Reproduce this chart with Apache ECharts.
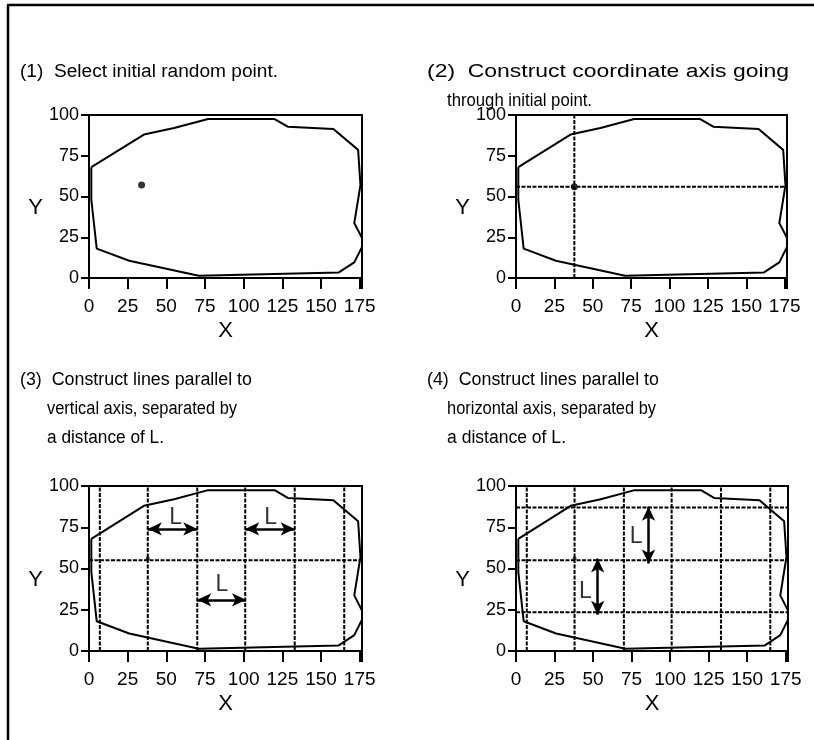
<!DOCTYPE html>
<html>
<head>
<meta charset="utf-8">
<script src="https://cdn.jsdelivr.net/npm/echarts@6/dist/echarts.min.js"></script>
<style>
html,body{margin:0;padding:0;background:#fff;}
#chart{width:814px;height:740px;}
</style>
</head>
<body>
<div id="chart"></div>
<script>
// ---- data ----
const boundary = [[1.5,68],[35.5,88],[55,92],[77,97.5],[120,97.5],[128.5,92.8],[158,91.4],[174,78.6],[175.5,57],[171.5,33.7],[178,21.8],[171.5,9.6],[161.5,3.4],[71,1.4],[26,10.6],[5,18],[1.5,48],[1.5,68]];
const pointPanel1 = [[34,57]];
const pointPanel2 = [[38,56]];
const pointPanels34 = [[38,56]];
const axisLineXPanel2 = [38];
const axisLineYPanel2 = [56];
const verticalLinesX = [7,38,70,101,133,165];
const horizontalLinePanel3 = [55];
const horizontalLinesY = [23.5,55,87];
const arrowsPanel3 = [[[38,74],[70,74]],[[101,74],[133,74]],[[70,31],[101.5,31]]];
const labelsPanel3 = [[56,81],[117.5,81],[86,40]];
const arrowsPanel4 = [[[86,87.5],[86,53]],[[53,56],[53,22]]];
const labelsPanel4 = [[78,69],[45,36]];
const xTicks = [0,25,50,75,100,125,150,175];
const yTicks = [0,25,50,75,100];
const titles = [
  ['(1)  Select initial random point.'],
  ['(2)  Construct coordinate axis going','through initial point.'],
  ['(3)  Construct lines parallel to','vertical axis, separated by','a distance of L.'],
  ['(4)  Construct lines parallel to','horizontal axis, separated by','a distance of L.']
];

// ---- layout ----
const FONT = 'Liberation Sans, Arial, sans-serif';
const TITLE_FONT = '18px "Liberation Sans", Arial, sans-serif';
const grids = [
  {left:89, top:115, width:273, height:163},
  {left:516, top:115, width:271, height:163},
  {left:89, top:486, width:273, height:165},
  {left:516, top:486, width:272, height:165}
];
const titlePos = [
  {x:20, y:72, indent:47},
  {x:427, y:72, indent:447},
  {x:20, y:380, indent:47},
  {x:427, y:380, indent:447}
];
const titleLineWidths = [[258],[362,145],[232,190,117],[232,209,119]];
const dashStyle = {color:'#000', width:2, type:[4,1.5]};

const measureCtx = document.createElement('canvas').getContext('2d');
measureCtx.font = TITLE_FONT;

const option = {
  animation:false,
  backgroundColor:'#fff',
  grid: grids.map(g => Object.assign({show:true, borderColor:'#000', borderWidth:2, containLabel:false}, g)),
  xAxis: grids.map((g,i) => ({
    gridIndex:i, type:'value', min:0, max:176.5, interval:25,
    name:'X', nameLocation:'middle', nameGap:42,
    nameTextStyle:{fontFamily:FONT, fontSize:22, color:'#000'},
    axisLine:{show:true, lineStyle:{color:'#000', width:2}},
    axisTick:{show:true, length:11, lineStyle:{color:'#000', width:2}},
    axisLabel:{fontFamily:FONT, fontSize:19, color:'#000', margin:19,
      formatter: v => xTicks.includes(v) ? String(v) : ''},
    splitLine:{show:false}
  })),
  yAxis: grids.map((g,i) => ({
    gridIndex:i, type:'value', min:0, max:100, interval:25,
    name:'Y', nameLocation:'middle', nameGap:46, nameRotate:0,
    nameTextStyle:{fontFamily:FONT, fontSize:22, color:'#000', verticalAlign:'top'},
    axisLine:{show:true, lineStyle:{color:'#000', width:2}},
    axisTick:{show:true, length:8, lineStyle:{color:'#000', width:2}},
    axisLabel:{fontFamily:FONT, fontSize:18, color:'#000', margin:10,
      formatter: v => yTicks.includes(v) ? String(v) : ''},
    splitLine:{show:false}
  })),
  graphic: [
    {type:'line', shape:{x1:8, y1:5, x2:8, y2:740}, style:{stroke:'#000', lineWidth:2.5}},
    {type:'line', shape:{x1:7, y1:5, x2:814, y2:5}, style:{stroke:'#000', lineWidth:2.5}}
  ],
  series: []
};

// titles
titles.forEach((lines,i) => {
  lines.forEach((t,j) => {
    const w = measureCtx.measureText(t).width || 1;
    const s = titleLineWidths[i][j] / w;
    option.graphic.push({type:'text',
      x: j===0 ? titlePos[i].x : titlePos[i].indent,
      y: titlePos[i].y + j*29,
      scaleX: s, scaleY: 1,
      style:{text:t, font:TITLE_FONT, fill:'#000', verticalAlign:'middle', align:'left'}});
  });
});

// boundaries
for (let i=0;i<4;i++) {
  option.series.push({type:'line', xAxisIndex:i, yAxisIndex:i, data:boundary,
    showSymbol:false, symbol:'none', clip:false, z:3,
    lineStyle:{color:'#000', width:2}});
}

function vline(i, x) {
  return {type:'line', xAxisIndex:i, yAxisIndex:i, data:[[x,0],[x,100]],
    showSymbol:false, symbol:'none', clip:false, z:2, lineStyle:dashStyle};
}
function hline(i, y) {
  return {type:'line', xAxisIndex:i, yAxisIndex:i, data:[[0,y],[176.5,y]],
    showSymbol:false, symbol:'none', clip:false, z:2, lineStyle:dashStyle};
}

// panel 2
axisLineXPanel2.forEach(x => option.series.push(vline(1,x)));
axisLineYPanel2.forEach(y => option.series.push(hline(1,y)));
// panel 3
verticalLinesX.forEach(x => option.series.push(vline(2,x)));
horizontalLinePanel3.forEach(y => option.series.push(hline(2,y)));
// panel 4
verticalLinesX.forEach(x => option.series.push(vline(3,x)));
horizontalLinesY.forEach(y => option.series.push(hline(3,y)));

// points
option.series.push({type:'scatter', xAxisIndex:0, yAxisIndex:0, data:pointPanel1, symbolSize:7, itemStyle:{color:'#000'}, z:5});
option.series.push({type:'scatter', xAxisIndex:1, yAxisIndex:1, data:pointPanel2, symbolSize:7, itemStyle:{color:'#000'}, z:5});
option.series.push({type:'scatter', xAxisIndex:2, yAxisIndex:2, data:pointPanels34, symbolSize:4, itemStyle:{color:'#000'}, z:5});
option.series.push({type:'scatter', xAxisIndex:3, yAxisIndex:3, data:pointPanels34, symbolSize:4, itemStyle:{color:'#000'}, z:5});

// arrows + labels
function arrowSeries(i, arrows, labels) {
  return {type:'scatter', xAxisIndex:i, yAxisIndex:i, data:labels, symbolSize:1,
    itemStyle:{color:'rgba(0,0,0,0)'}, z:6,
    label:{show:true, position:'inside', formatter:'L', fontFamily:FONT, fontSize:23, color:'#000'},
    markLine:{silent:true, symbol:['arrow','arrow'], symbolSize:[10,14], precision:2,
      label:{show:false}, lineStyle:{type:'solid', color:'#000', width:2.5},
      data: arrows.map(a => [{coord:a[0]},{coord:a[1]}])}};
}
option.series.push(arrowSeries(2, arrowsPanel3, labelsPanel3));
option.series.push(arrowSeries(3, arrowsPanel4, labelsPanel4));

const chart = echarts.init(document.getElementById('chart'), null, {renderer:'canvas'});
chart.setOption(option);
</script>
</body>
</html>
